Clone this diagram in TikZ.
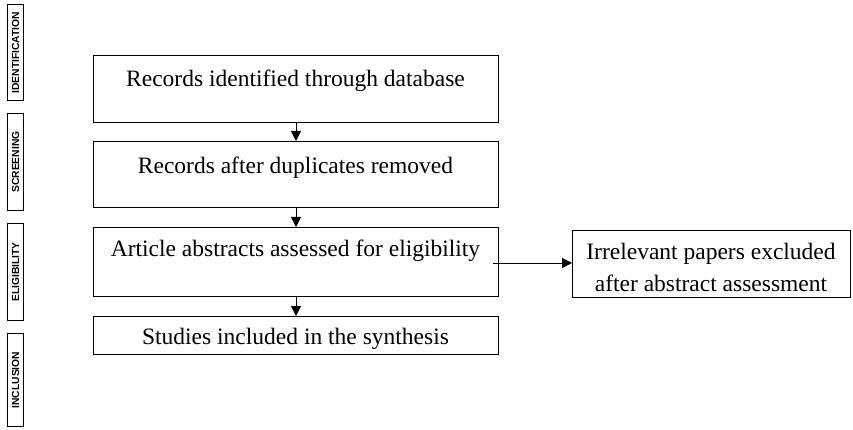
\documentclass[tikz,border=0pt]{standalone}
\usepackage{fontspec}
\setmainfont{Liberation Serif}
\newfontfamily\labfont{Liberation Sans}
\usetikzlibrary{arrows.meta}
\begin{document}
\begin{tikzpicture}[x=1pt,y=-1pt,
  flowbox/.style={draw,line width=1pt,inner sep=0pt,anchor=north west},
  sidebox/.style={draw,line width=1.1pt,inner sep=0pt,anchor=north west,minimum width=16pt},
  sidetext/.style={rotate=90,font=\labfont\bfseries\fontsize{10.3}{12}\selectfont,inner sep=0pt},
  boxtext/.style={font=\fontsize{23.5}{32}\selectfont,inner sep=0pt,align=center},
  flowarrow/.style={line width=1pt,-{Triangle[length=10pt,width=10pt]}}]
\useasboundingbox (0,0) rectangle (853,430);
% side phase boxes
\node[sidebox,minimum height=96pt] (sid) at (7,4) {};
\node[sidetext] (tid) at (sid.center) {IDENTIFICATION};
\node[sidebox,minimum height=97pt] (ssc) at (7,113) {};
\node[sidetext] (tsc) at (ssc.center) {SCREENING};
\node[sidebox,minimum height=97pt] (sel) at (7,223) {};
\node[sidetext] (tel) at (sel.center) {ELIGIBILITY};
\node[sidebox,minimum height=93pt] (sin) at (7,333) {};
\node[sidetext] (tin) at (sin.center) {INCLUSION};
% main boxes
\node[flowbox,minimum width=405pt,minimum height=67pt] (b1) at (93,55) {};
\node[boxtext] (t1) at (295.5,81) {Records identified through database};
\node[flowbox,minimum width=405pt,minimum height=66pt] (b2) at (93,141) {};
\node[boxtext] (t2) at (295.5,168) {Records after duplicates removed};
\node[flowbox,minimum width=405pt,minimum height=69pt] (b3) at (93,227) {};
\node[boxtext] (t3) at (295.5,251) {Article abstracts assessed for eligibility};
\node[flowbox,minimum width=405pt,minimum height=38pt] (b4) at (93,316) {};
\node[boxtext] (t4) at (295.5,339) {Studies included in the synthesis};
\node[flowbox,minimum width=278pt,minimum height=67pt] (ex) at (572,230) {};
\node[boxtext] (tex) at (711,267) {Irrelevant papers excluded\\after abstract assessment};
% arrows
\draw[flowarrow] (b1.south) -- (b2.north);
\draw[flowarrow] (b2.south) -- (b3.north);
\draw[flowarrow] (b3.south) -- (b4.north);
\coordinate (exs) at (493,263);
\draw[flowarrow] (exs) -- (exs -| ex.west);
\end{tikzpicture}
\end{document}
